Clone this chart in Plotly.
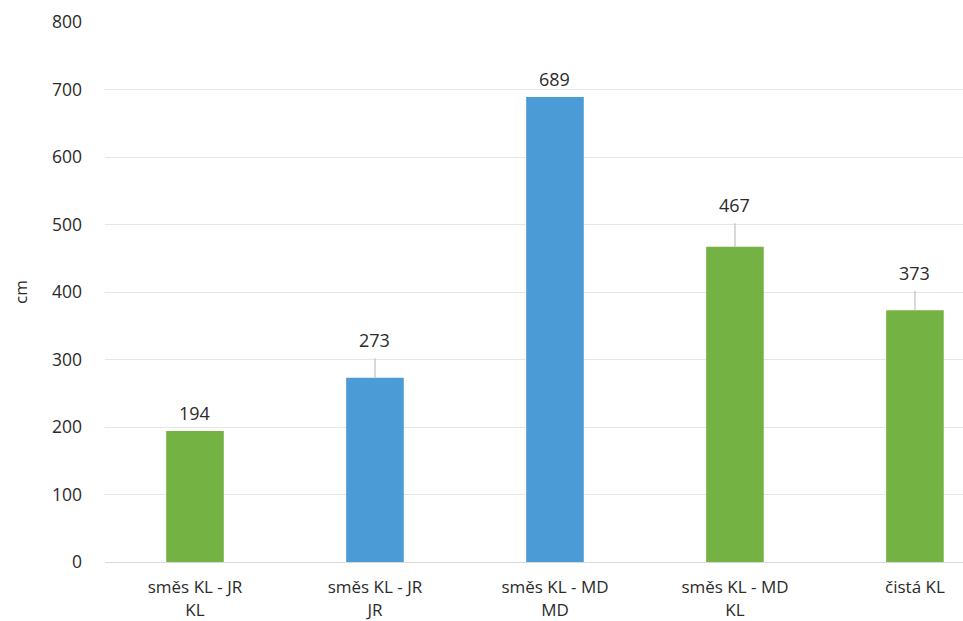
import plotly.graph_objects as go

# Plant heights by stand mixture and species
categories = ["směs KL - JR<br>KL", "směs KL - JR<br>JR", "směs KL - MD<br>MD", "směs KL - MD<br>KL", "čistá KL"]
values = [194, 273, 689, 467, 373]
errors = [0, 29, 0, 35, 29]
bar_colors = ["#74b243", "#4a9bd6", "#4a9bd6", "#74b243", "#74b243"]
y_ticks = [0, 100, 200, 300, 400, 500, 600, 700, 800]

x_pos = list(range(len(categories)))
FONT = "Open Sans, Liberation Sans, sans-serif"
TXT = "#2b2b2b"

fig = go.Figure()
fig.add_trace(go.Bar(
    x=x_pos,
    y=values,
    width=0.32,
    marker=dict(color=bar_colors, line=dict(width=0)),
    error_y=dict(type="data", array=errors, arrayminus=[0] * len(errors),
                 symmetric=False, color="#bfbfbf", thickness=1.2, width=0),
    hoverinfo="skip",
))

# value labels above the bar (or its error bar)
for xi, v, e in zip(x_pos, values, errors):
    fig.add_annotation(x=xi, y=v + e, text=str(v), showarrow=False,
                       yanchor="bottom", yshift=4,
                       font=dict(family=FONT, size=18, color=TXT))

fig.update_layout(
    width=963, height=621,
    margin=dict(l=105, r=0, t=22, b=59, autoexpand=False),
    paper_bgcolor="white", plot_bgcolor="white",
    showlegend=False,
    font=dict(family=FONT, size=17, color=TXT),
    xaxis=dict(
        range=[-0.5, 4.267], automargin=False,
        tickmode="array", tickvals=x_pos, ticktext=categories,
        showgrid=False, zeroline=False,
        showline=True, linecolor="#d9d9d9", linewidth=1,
        ticks="", ticklabelstandoff=10,
        tickfont=dict(size=17, color=TXT),
    ),
    yaxis=dict(
        range=[0, 800], automargin=False,
        tickmode="array", tickvals=y_ticks,
        showgrid=True, gridcolor="#e6e6e6", gridwidth=1,
        zeroline=False, showline=False, ticks="",
        ticklabelstandoff=22,
        tickfont=dict(size=17.5, color=TXT),
        title=dict(text="cm", standoff=20, font=dict(size=17, color=TXT)),
    ),
)

fig.write_html("out.html")
